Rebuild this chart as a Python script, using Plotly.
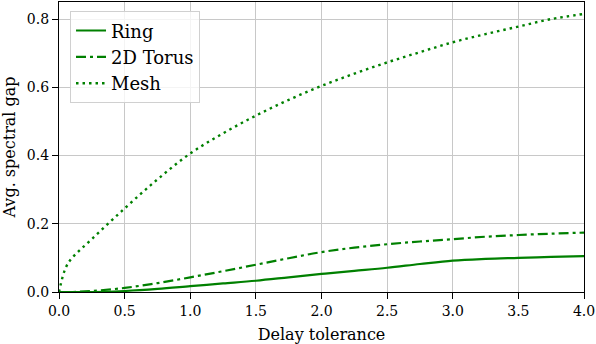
import plotly.graph_objects as go

# Avg. spectral gap vs delay tolerance for three topologies
delay = [0.0, 0.05, 0.1, 0.25, 0.5, 0.75, 1.0, 1.25, 1.5, 1.75, 2.0, 2.25, 2.5, 2.75, 3.0, 3.25, 3.5, 3.75, 4.0]
ring = [0.0, 0.0, 0.0, 0.0, 0.003, 0.009, 0.017, 0.025, 0.033, 0.043, 0.053, 0.062, 0.071, 0.082, 0.092, 0.097, 0.100, 0.103, 0.105]
torus = [0.0, 0.0, 0.0, 0.003, 0.012, 0.026, 0.043, 0.061, 0.080, 0.099, 0.117, 0.130, 0.140, 0.148, 0.155, 0.162, 0.167, 0.171, 0.174]
mesh = [0.0, 0.07, 0.10, 0.155, 0.245, 0.33, 0.406, 0.465, 0.517, 0.563, 0.604, 0.640, 0.673, 0.703, 0.732, 0.756, 0.778, 0.800, 0.815]

green = "#008000"
font = "DejaVu Serif"

fig = go.Figure()
fig.add_trace(go.Scatter(x=delay, y=ring, mode="lines", name="Ring",
                         line=dict(color=green, width=2.2, shape="spline")))
fig.add_trace(go.Scatter(x=delay, y=torus, mode="lines", name="2D Torus",
                         line=dict(color=green, width=2.2, dash="10px,4px,3px,4px", shape="spline")))
fig.add_trace(go.Scatter(x=delay, y=mesh, mode="lines", name="Mesh",
                         line=dict(color=green, width=2.4, dash="2.5px,4px", shape="spline")))

fig.update_layout(
    width=596, height=344,
    margin=dict(l=59, r=12, t=2, b=52),
    paper_bgcolor="white", plot_bgcolor="white",
    font=dict(family=font, size=14, color="black"),
    showlegend=True,
    legend=dict(x=0.021, y=0.968, xanchor="left", yanchor="top",
                bgcolor="rgba(255,255,255,0.8)", bordercolor="#d0d0d0", borderwidth=1,
                font=dict(size=18), tracegroupgap=0),
)
fig.update_xaxes(title=dict(text="Delay tolerance", font=dict(size=16)),
                 range=[0, 4], dtick=0.5, tickformat=".1f", automargin=False,
                 showgrid=True, gridcolor="#c8c8c8", gridwidth=1,
                 showline=True, linecolor="black", linewidth=1.2, mirror=True,
                 ticks="outside", ticklen=6, tickcolor="black", zeroline=False)
fig.update_yaxes(title=dict(text="Avg. spectral gap", font=dict(size=16)),
                 range=[0, 0.85], dtick=0.2, tickformat=".1f", automargin=False,
                 showgrid=True, gridcolor="#c8c8c8", gridwidth=1,
                 showline=True, linecolor="black", linewidth=1.2, mirror=True,
                 ticks="outside", ticklen=6, tickcolor="black", zeroline=False)

# drop the default page margin so the figure sits at the window's corner
fig.write_html("out.html", config={"displayModeBar": False},
               post_script="document.body.style.margin='0';")
